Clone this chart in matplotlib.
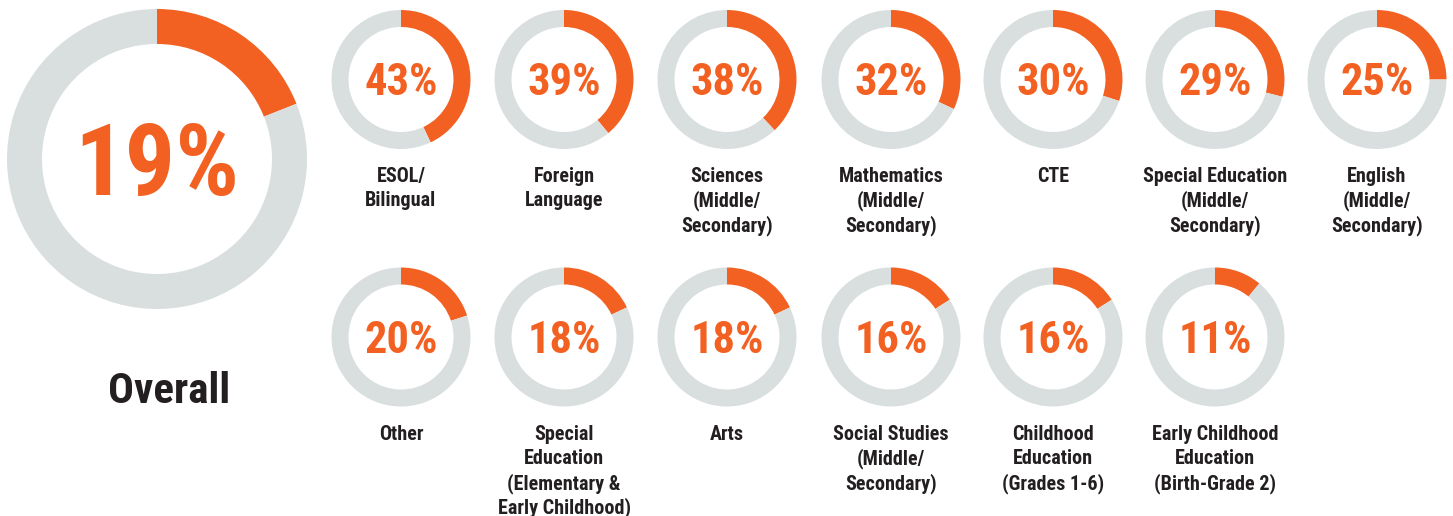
import matplotlib.pyplot as plt
from matplotlib import font_manager

# data
overall_label = "Overall"
overall_pct = 19
row1_labels = ["ESOL/\nBilingual", "Foreign\nLanguage", "Sciences\n(Middle/\nSecondary)",
               "Mathematics\n(Middle/\nSecondary)", "CTE", "Special Education\n(Middle/\nSecondary)",
               "English\n(Middle/\nSecondary)"]
row1_pct = [43, 39, 38, 32, 30, 29, 25]
row2_labels = ["Other", "Special\nEducation\n(Elementary &\nEarly Childhood)", "Arts",
               "Social Studies\n(Middle/\nSecondary)", "Childhood\nEducation\n(Grades 1-6)",
               "Early Childhood\nEducation\n(Birth-Grade 2)"]
row2_pct = [20, 18, 18, 16, 16, 11]

ORANGE = "#F26122"
GREY = "#D9DFDF"
DARK = "#231F20"

names = {f.name for f in font_manager.fontManager.ttflist}
FONT = [n for n in ["Roboto Condensed", "Liberation Sans Narrow", "DejaVu Sans"] if n in names]
plt.rcParams['font.family'] = FONT

W, H = 1453, 516
fig = plt.figure(figsize=(W / 100, H / 100), dpi=100)
ax = fig.add_axes([0, 0, 1, 1])


def donut(cx, cy, r, w, pct, fs):
    # pixel coords with y from top -> flip
    y = H - cy
    ax.pie([pct, 100 - pct], colors=[ORANGE, GREY], startangle=90, counterclock=False,
           radius=r, center=(cx, y), wedgeprops=dict(width=w, linewidth=0))
    cap = fs / 72 * 100 * 0.71
    ax.text(cx, y - cap / 2, f"{pct}%", ha="center", va="baseline", fontsize=fs,
            fontweight="bold", color=ORANGE)


def label(cx, top_base, text, fs=14.5, step=24.5):
    for i, line in enumerate(text.split("\n")):
        ax.text(cx, H - (top_base + i * step), line, ha="center", va="baseline",
                fontsize=fs, fontweight="bold", color=DARK)


# overall donut
donut(157, 159, 150, 35, overall_pct, 72)
ax.text(169, H - 403, overall_label, ha="center", va="baseline", fontsize=31,
        fontweight="bold", color=DARK)

col_x = [401, 564, 727, 891, 1053, 1215, 1377]
for x, p, lab in zip(col_x, row1_pct, row1_labels):
    donut(x, 79.5, 69.5, 17, p, 32)
    label(x, 182, lab)
for x, p, lab in zip(col_x, row2_pct, row2_labels):
    donut(x, 337, 69.5, 17, p, 32)
    label(x, 440, lab)

ax.set_xlim(0, W)
ax.set_ylim(0, H)
ax.set_aspect("auto")
ax.axis("off")

fig.savefig("out.png", dpi=100, facecolor="white")
